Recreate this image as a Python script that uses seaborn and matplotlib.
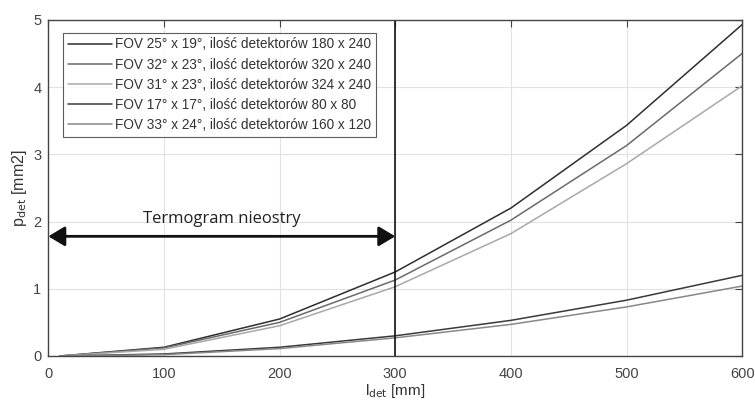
import matplotlib
matplotlib.use("Agg")
import matplotlib.pyplot as plt
import seaborn as sns
import pandas as pd

# odległość detektora [mm]
l_det = [10, 100, 200, 300, 400, 500, 600]

labels = [
    "FOV 25° x 19°, ilość detektorów 180 x 240",
    "FOV 32° x 23°, ilość detektorów 320 x 240",
    "FOV 31° x 23°, ilość detektorów 324 x 240",
    "FOV 17° x 17°, ilość detektorów 80 x 80",
    "FOV 33° x 24°, ilość detektorów 160 x 120",
]

p_fov25 = [0.0, 0.13, 0.55, 1.25, 2.20, 3.43, 4.93]
p_fov32 = [0.0, 0.12, 0.50, 1.13, 2.02, 3.13, 4.50]
p_fov31 = [0.0, 0.10, 0.45, 1.03, 1.82, 2.86, 4.02]
p_fov17 = [0.0, 0.03, 0.13, 0.30, 0.53, 0.83, 1.20]
p_fov33 = [0.0, 0.02, 0.11, 0.27, 0.47, 0.73, 1.04]

colors = ["#2e2e2e", "#6a6a6a", "#a8a8a8", "#3a3a3a", "#888888"]

rows = []
for lab, vals in zip(labels, [p_fov25, p_fov32, p_fov31, p_fov17, p_fov33]):
    for x, y in zip(l_det, vals):
        rows.append({"l": x, "p": y, "seria": lab})
df = pd.DataFrame(rows)

sns.set_style("white")
plt.rcParams["font.family"] = ["Liberation Sans", "DejaVu Sans"]

fig = plt.figure(figsize=(7.55, 4.05), dpi=100)
ax = fig.add_axes([0.064, 0.121, 0.919, 0.830])

sns.lineplot(data=df, x="l", y="p", hue="seria", palette=colors,
             linewidth=1.1, ax=ax, legend=True)

ax.set_xlim(0, 600)
ax.set_ylim(0, 5)
ax.set_xticks(range(0, 601, 100))
ax.set_yticks(range(0, 6))
ax.grid(True, color="#e2e2e2", linewidth=0.8)
ax.tick_params(direction="in", length=5, top=True, right=True,
               labelsize=10.5, labelcolor="#444444", color="#444444")
ax.tick_params(axis="x", pad=8)
ax.tick_params(axis="y", pad=5)
for s in ax.spines.values():
    s.set_color("#444444")
    s.set_linewidth(1.0)

ax.set_xlabel(r"l$_{\mathrm{det}}$ [mm]", fontsize=11, color="#333333", labelpad=1)
ax.set_ylabel(r"p$_{\mathrm{det}}$ [mm2]", fontsize=11.5, color="#333333", labelpad=3)

# granica ostrości
ax.axvline(300, color="#111111", linewidth=1.2)
ax.annotate("", xy=(0, 1.78), xytext=(300, 1.78),
            arrowprops=dict(arrowstyle="<|-|>,head_length=0.5,head_width=0.3",
                            color="#111111", lw=2, mutation_scale=20,
                            shrinkA=0, shrinkB=0))
ax.text(150, 1.92, "Termogram nieostry", ha="center", va="bottom",
        fontsize=12, color="#222222", family=["Open Sans", "DejaVu Sans"])

leg = ax.legend(loc="upper left", bbox_to_anchor=(0.011, 0.982), fontsize=9.8,
                frameon=True, fancybox=False, edgecolor="#333333",
                handlelength=3.3, handletextpad=0.2, labelspacing=0.45,
                borderpad=0.35, title=None)
leg.get_frame().set_linewidth(0.8)
for t in leg.get_texts():
    t.set_color("#333333")

fig.savefig("out.png", dpi=100)
